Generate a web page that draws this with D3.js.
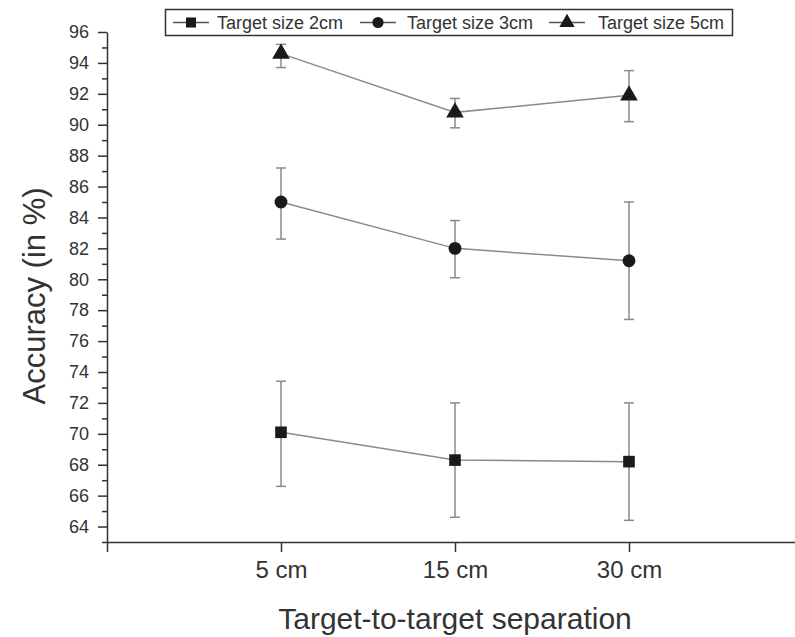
<!DOCTYPE html>
<html>
<head>
<meta charset="utf-8">
<script src="https://cdn.jsdelivr.net/npm/d3@7"></script>
<style>
  body { margin: 0; background: #fff; }
  text { font-family: "Liberation Sans", Arial, sans-serif; fill: #333; }
</style>
</head>
<body>
<div id="chart"></div>
<script>
const width = 795;
const height = 637;

// categories along the x axis
const separations = ['5 cm', '15 cm', '30 cm'];

// mean accuracy per target size (in %)
const size2 = [70.1, 68.3, 68.2];
const size3 = [85.0, 82.0, 81.2];
const size5 = [94.6, 90.8, 91.9];

// error bar ends (low / high)
const size2Low = [66.6, 64.6, 64.4];
const size2High = [73.4, 72.0, 72.0];
const size3Low = [82.6, 80.1, 77.4];
const size3High = [87.2, 83.8, 85.0];
const size5Low = [93.7, 89.8, 90.2];
const size5High = [95.2, 91.7, 93.5];

const yTicks = d3.range(64, 97, 2);
const yMinor = d3.range(63, 96, 2);

const series = [
  { name: 'Target size 2cm', mean: size2, low: size2Low, high: size2High, shape: d3.symbolSquare, size: 135 },
  { name: 'Target size 3cm', mean: size3, low: size3Low, high: size3High, shape: d3.symbolCircle, size: 130 },
  { name: 'Target size 5cm', mean: size5, low: size5Low, high: size5High, shape: d3.symbolTriangle, size: 135 }
];

const svg = d3.select('#chart')
  .append('svg')
  .attr('width', width)
  .attr('height', height);

// the x axis runs past the right edge of the picture, like the original
const x = d3.scaleLinear().domain([0, 4]).range([107, 803]);
const y = d3.scaleLinear().domain([63, 96]).range([542, 32]);

// y axis: major ticks with labels, minor ticks between
const yAxis = svg.append('g')
  .attr('transform', `translate(${x(0)},0)`)
  .call(d3.axisLeft(y).tickValues(yTicks).tickSize(9).tickPadding(9).tickSizeOuter(0));
yAxis.selectAll('text').style('font-size', '18px');
svg.append('g')
  .attr('transform', `translate(${x(0)},0)`)
  .call(d3.axisLeft(y).tickValues(yMinor).tickSize(5).tickFormat('').tickSizeOuter(0))
  .select('.domain').remove();

// x axis
const xAxis = svg.append('g')
  .attr('transform', `translate(0,${y(63)})`)
  .call(d3.axisBottom(x)
    .tickValues([0, 1, 2, 3])
    .tickFormat((d) => (d === 0 ? '' : separations[d - 1]))
    .tickSize(10).tickPadding(9).tickSizeOuter(0));
xAxis.selectAll('text').style('font-size', '24px');

svg.selectAll('.domain, .tick line').attr('stroke', '#333').attr('stroke-width', 1.5);

// axis titles
svg.append('text')
  .attr('x', 455)
  .attr('y', 629)
  .attr('text-anchor', 'middle')
  .style('font-size', '30px')
  .text('Target-to-target separation');

svg.append('text')
  .attr('transform', 'translate(45,296) rotate(-90)')
  .attr('text-anchor', 'middle')
  .style('font-size', '31px')
  .text('Accuracy (in %)');

const line = d3.line()
  .x((d, i) => x(i + 1))
  .y((d) => y(d));

series.forEach((s) => {
  const g = svg.append('g');

  // error bars
  s.mean.forEach((m, i) => {
    const cx = x(i + 1);
    g.append('line')
      .attr('x1', cx).attr('x2', cx)
      .attr('y1', y(s.low[i])).attr('y2', y(s.high[i]))
      .attr('stroke', '#8a8a8a').attr('stroke-width', 1.5);
    [s.low[i], s.high[i]].forEach((v) => {
      g.append('line')
        .attr('x1', cx - 5).attr('x2', cx + 5)
        .attr('y1', y(v)).attr('y2', y(v))
        .attr('stroke', '#8a8a8a').attr('stroke-width', 1.5);
    });
  });

  g.append('path')
    .datum(s.mean)
    .attr('d', line)
    .attr('fill', 'none')
    .attr('stroke', '#8a8a8a')
    .attr('stroke-width', 1.5);

  g.selectAll('path.marker')
    .data(s.mean)
    .join('path')
    .attr('class', 'marker')
    .attr('d', d3.symbol().type(s.shape).size(s.size))
    .attr('transform', (d, i) => `translate(${x(i + 1)},${y(d)})`)
    .attr('fill', '#1a1a1a');
});

// legend
const legend = svg.append('g');
legend.append('rect')
  .attr('x', 165.5).attr('y', 9.5)
  .attr('width', 567).attr('height', 26)
  .attr('fill', '#fff')
  .attr('stroke', '#333')
  .attr('stroke-width', 1.5);

const legendX = [173, 360, 549];
const legendTextX = [217, 407, 598];
series.forEach((s, i) => {
  const lx = legendX[i];
  legend.append('line')
    .attr('x1', lx).attr('x2', lx + 36)
    .attr('y1', 22.5).attr('y2', 22.5)
    .attr('stroke', '#555').attr('stroke-width', 1.5);
  legend.append('path')
    .attr('d', d3.symbol().type(s.shape).size(s.size * 0.75))
    .attr('transform', `translate(${lx + 18},22.5)`)
    .attr('fill', '#1a1a1a');
  legend.append('text')
    .attr('x', legendTextX[i])
    .attr('y', 29)
    .style('font-size', '18px')
    .text(s.name);
});
</script>
</body>
</html>
